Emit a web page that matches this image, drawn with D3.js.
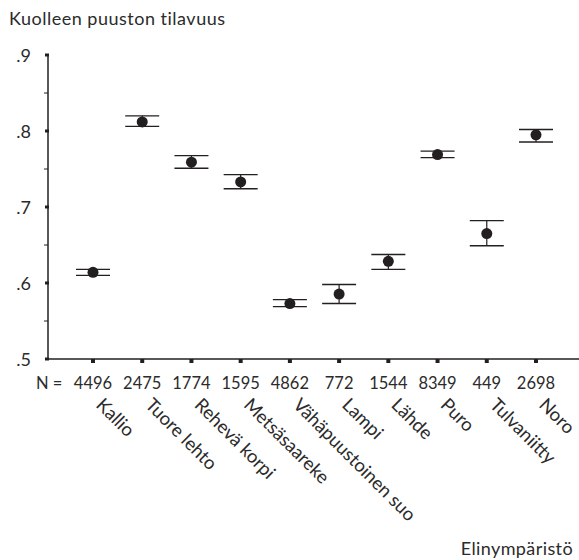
<!DOCTYPE html>
<html><head><meta charset="utf-8">
<script src="https://cdn.jsdelivr.net/npm/d3@7"></script>
<style>body{margin:0;background:#fff}</style>
</head><body>
<svg id="c" width="579" height="560"></svg>
<script>
const categories = ["Kallio","Tuore lehto","Rehevä korpi","Metsäsaareke","Vähäpuustoinen suo","Lampi","Lähde","Puro","Tulvaniitty","Noro"];
const nValues = [4496,2475,1774,1595,4862,772,1544,8349,449,2698];
const means = [0.614,0.812,0.759,0.733,0.573,0.5855,0.6285,0.769,0.665,0.795];
const upper = [0.618,0.820,0.7675,0.7425,0.578,0.598,0.6375,0.7735,0.682,0.802];
const lower = [0.610,0.806,0.751,0.724,0.569,0.573,0.618,0.765,0.649,0.7855];
const yTicks = [0.5,0.6,0.7,0.8,0.9];
const yMinor = [0.55,0.65,0.75,0.85];
const yTickLabels = [".5",".6",".7",".8",".9"];

const svg = d3.select("#c");
const font = "Lato, 'Open Sans', sans-serif";
const ink = "#231f20";
const txt = "#2b2b2b";
const x = d3.scalePoint().domain(categories).range([93,536]);
const y = d3.scaleLinear().domain([0.5,0.9]).range([359,55]);

// axes lines
svg.append("line").attr("x1",48).attr("x2",48).attr("y1",y(0.9)).attr("y2",y(0.5)).attr("stroke",ink).attr("stroke-width",1.5);
svg.append("line").attr("x1",48).attr("x2",579).attr("y1",y(0.5)).attr("y2",y(0.5)).attr("stroke",ink).attr("stroke-width",1.5);

// y ticks
svg.selectAll(".ymaj").data(yTicks).enter().append("rect")
  .attr("x",45).attr("y",d=>y(d)-1.5).attr("width",4).attr("height",3).attr("fill",ink);
svg.selectAll(".ymin").data(yMinor).enter().append("line")
  .attr("x1",44).attr("x2",48).attr("y1",d=>y(d)).attr("y2",d=>y(d)).attr("stroke",ink).attr("stroke-width",1);
svg.selectAll(".ylab").data(yTicks).enter().append("text")
  .attr("x",31).attr("y",d=>y(d)+7).attr("text-anchor","end")
  .attr("font-family",font).attr("font-size",18).attr("fill",txt)
  .text((d,i)=>yTickLabels[i]);

// x ticks
svg.selectAll(".xt").data(categories).enter().append("rect")
  .attr("x",d=>x(d)-2).attr("y",359).attr("width",4).attr("height",4).attr("fill",ink);

// N labels
svg.append("text").attr("x",36).attr("y",389).attr("font-family",font).attr("font-size",16.5).attr("fill",txt).text("N =");
svg.selectAll(".nl").data(categories).enter().append("text")
  .attr("x",d=>x(d)).attr("y",389).attr("text-anchor","middle")
  .attr("font-family",font).attr("font-size",16.5).attr("fill",txt)
  .text((d,i)=>nValues[i]);

// rotated category labels
svg.selectAll(".cl").data(categories).enter().append("text")
  .attr("transform",d=>`translate(${x(d)+2},${406}) rotate(45)`)
  .attr("font-family",font).attr("font-size",18.5).attr("fill",txt)
  .text(d=>d);

// error bars
const g = svg.append("g");
categories.forEach((c,i)=>{
  const cx = x(c);
  g.append("line").attr("x1",cx).attr("x2",cx).attr("y1",y(upper[i])).attr("y2",y(lower[i])).attr("stroke",ink).attr("stroke-width",1.2);
  [upper[i],lower[i]].forEach(v=>{
    g.append("line").attr("x1",cx-17).attr("x2",cx+17).attr("y1",y(v)).attr("y2",y(v)).attr("stroke",ink).attr("stroke-width",1.3);
  });
  g.append("circle").attr("cx",cx).attr("cy",y(means[i])).attr("r",5.5).attr("fill",ink);
});

// titles
svg.append("text").attr("x",9).attr("y",25).attr("font-family",font).attr("font-size",18).attr("letter-spacing",0.5).attr("fill",txt).text("Kuolleen puuston tilavuus");
svg.append("text").attr("x",573).attr("y",555).attr("text-anchor","end").attr("font-family",font).attr("font-size",18).attr("letter-spacing",0.4).attr("fill",txt).text("Elinympäristö");
</script>
</body></html>
